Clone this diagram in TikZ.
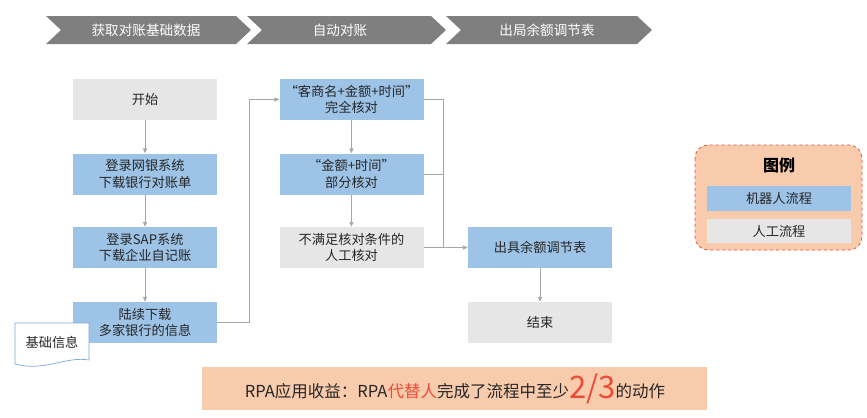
\documentclass[tikz,border=0pt]{standalone}
\usepackage{fontspec}
\setmainfont{Noto Sans CJK SC}
\usetikzlibrary{arrows.meta}
\definecolor{cblue}{HTML}{9DC3E6}
\definecolor{cgray}{HTML}{E6E6E6}
\definecolor{chev}{HTML}{7F7F7F}
\definecolor{peach}{HTML}{F8CBAD}
\definecolor{cred}{HTML}{EE4B36}
\definecolor{lineg}{HTML}{A6A6A6}
\definecolor{txt}{HTML}{262626}
\definecolor{docb}{HTML}{7EA6D6}
\tikzset{
  box/.style={minimum width=144bp,minimum height=41bp,inner sep=0pt,align=center,
    font=\fontsize{13.2bp}{16.5bp}\selectfont,text=txt},
  robot/.style={box,fill=cblue},
  human/.style={box,fill=cgray},
  conn/.style={draw=lineg,line width=0.9bp,-{Triangle[length=5bp,width=4bp]}},
  plain/.style={draw=lineg,line width=0.9bp},
  chevtxt/.style={text=white,font=\fontsize{13.6bp}{16bp}\selectfont,inner sep=0pt}
}
\begin{document}
\begin{tikzpicture}[x=1bp,y=-1bp]
\useasboundingbox (0,0) rectangle (867,417);
% chevrons
\fill[chev] (46,16) -- (236,16) -- (251,30) -- (236,44) -- (46,44) -- (61,30) -- cycle;
\fill[chev] (247,16) -- (431,16) -- (446,30) -- (431,44) -- (247,44) -- (262,30) -- cycle;
\fill[chev] (446,16) -- (637,16) -- (652,30) -- (637,44) -- (446,44) -- (461,30) -- cycle;
\node[chevtxt] (h1) at (146,30) {获取对账基础数据};
\node[chevtxt] (h2) at (340,30) {自动对账};
\node[chevtxt] (h3) at (547,30) {出局余额调节表};
% left column
\node[human] (start) at (145,99.5) {开始};
\node[robot] (l1) at (145,174) {登录网银系统\\下载银行对账单};
\node[robot] (l2) at (145,247.5) {登录SAP系统\\下载企业自记账};
\node[robot] (l3) at (145,322.5) {陆续下载\\多家银行的信息};
% document shape (on top of the box)
\draw[docb,fill=white,line width=0.7bp] (15,323) -- (89,323) -- (89,360)
  .. controls (65,356) and (45,372) .. (15,364) -- cycle;
\node[font=\fontsize{13.2bp}{16bp}\selectfont,text=txt,inner sep=0pt] (doc) at (52,342) {基础信息};
% middle column
\node[robot] (m1) at (351.5,99.5) {“客商名+金额+时间”\\完全核对};
\node[robot] (m2) at (351.5,174) {“金额+时间”\\部分核对};
\node[human] (m3) at (351.5,247.5) {不满足核对条件的\\人工核对};
% right column
\node[robot] (r1) at (540,247.5) {出具余额调节表};
\node[human] (r2) at (540,322.5) {结束};
% connectors
\draw[conn] (start) -- (l1);
\draw[conn] (l1) -- (l2);
\draw[conn] (l2) -- (l3);
\draw[conn] (l3.east) -- (249,322.5) -- (249,99.5) -- (m1.west);
\draw[conn] (m1) -- (m2);
\draw[conn] (m2) -- (m3);
\coordinate (j) at (443,247.5);
\draw[plain] (m1.east) -- (443,99.5) -- (j);
\draw[plain] (m2.east) -- (443,174);
\draw[conn] (m3.east) -- (r1.west);
\draw[conn] (r1) -- (r2);
% legend
\draw[cred,dashed,fill=peach,line width=0.8bp,rounded corners=13bp] (695,145) rectangle (862,250);
\node[font=\fontsize{16bp}{18bp}\selectfont\bfseries,text=black] (lt) at (779,165) {图例};
\node[robot,minimum width=144bp,minimum height=25bp] (lg1) at (779,198.5) {机器人流程};
\node[human,minimum width=144bp,minimum height=24bp] (lg2) at (779,231) {人工流程};
% banner
\fill[peach] (202,367) rectangle (707,410);
\node[text=txt,font=\fontsize{16.5bp}{18bp}\selectfont,inner sep=0pt] (ban) at (455,389)
  {RPA应用收益：RPA\textcolor{cred}{代替人}完成了流程中至少\raisebox{-1bp}{\textcolor{cred}{\fontsize{31bp}{32bp}\selectfont 2/3}}的动作};
\end{tikzpicture}
\end{document}
